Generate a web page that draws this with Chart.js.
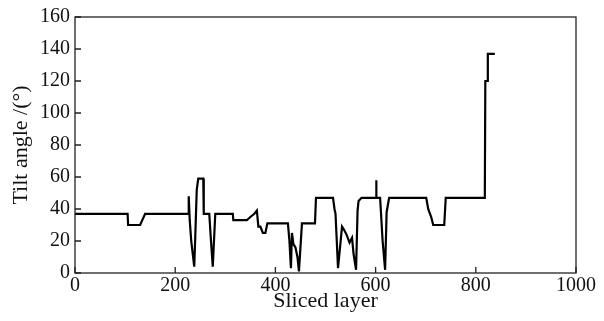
<!DOCTYPE html>
<html><head><meta charset="utf-8">
<script src="https://cdn.jsdelivr.net/npm/chart.js@4.4.1/dist/chart.umd.min.js"></script>
<style>html,body{margin:0;padding:0;background:#fff}#wrap{width:604px;height:321px}</style>
</head><body><div id="wrap"><canvas id="c" width="604" height="321"></canvas></div>
<script>
const layers = [0,105,106,130,140,226,227,229,232,238,240,243,246,256,257,268,271,275,280,315,316,343,350,358,363,366,370,375,380,384,425,428,431,433,436,440,444,447,453,479,481,515,518,520,525,533,537,542,548,553,556,561,564,566,572,601,601,602,609,614,619,622,627,701,705,711,715,737,740,818,819,823,824,838];
const angles = [37,37,30,30,37,37,48,33,20,4,22,52,59,59,37,37,22,4,37,37,33,33,35,37,39,29,29,25,25,31,31,20,3,25,18,16,10,1,31,31,47,47,40,37,3,29,27,24,19,22,12,2,39,45,47,47,58,47,47,20,2,38,47,47,40,35,30,30,47,47,120,120,137,137];
const xTicks = [0,200,400,600,800,1000];
const yTicks = [0,20,40,60,80,100,120,140,160];
const xTitle = 'Sliced layer';
const yTitle = 'Tilt angle /(°)';

const pts = layers.map((x,i)=>({x:x,y:angles[i]}));
const FONT = 'Liberation Serif';

const framePlugin = {
  id:'frame',
  afterDraw(chart){
    const {ctx, chartArea:a, scales} = chart;
    ctx.save();
    ctx.strokeStyle = '#222';
    ctx.lineWidth = 1.3;
    ctx.strokeRect(a.left, a.top, a.right-a.left, a.bottom-a.top);
    ctx.beginPath();
    xTicks.forEach(v=>{const p=scales.x.getPixelForValue(v); ctx.moveTo(p,a.bottom); ctx.lineTo(p,a.bottom-6);});
    yTicks.forEach(v=>{const p=scales.y.getPixelForValue(v); ctx.moveTo(a.left,p); ctx.lineTo(a.left+6,p);});
    ctx.stroke();
    ctx.restore();
  }
};

new Chart(document.getElementById('c'), {
  type:'line',
  data:{datasets:[{data:pts, borderColor:'#000', borderWidth:2.2, pointRadius:0, tension:0, fill:false}]},
  options:{
    responsive:false, animation:false,
    layout:{padding:{top:17,right:28,left:0,bottom:0}},
    plugins:{legend:{display:false},tooltip:{enabled:false}},
    scales:{
      x:{type:'linear',min:0,max:1000,
        afterBuildTicks(s){s.ticks = xTicks.map(v=>({value:v}));},
        grid:{display:false,drawTicks:false,tickLength:0}, border:{display:false},
        ticks:{color:'#111',font:{family:FONT,size:20},padding:1,maxRotation:0,autoSkip:false,callback:v=>String(v)},
        title:{display:true,text:xTitle,color:'#111',font:{family:FONT,size:22},padding:{top:0,bottom:7}},
        afterFit(s){s.height = 48;}
      },
      y:{min:0,max:160,
        afterBuildTicks(s){s.ticks = yTicks.map(v=>({value:v}));},
        grid:{display:false,drawTicks:false,tickLength:0}, border:{display:false},
        ticks:{color:'#111',font:{family:FONT,size:20},padding:5,autoSkip:false,callback:v=>String(v)},
        title:{display:true,text:yTitle,color:'#111',font:{family:FONT,size:22},padding:{top:8,bottom:0}},
        afterFit(s){s.width = 75;}
      }
    }
  },
  plugins:[framePlugin]
});
</script></body></html>
